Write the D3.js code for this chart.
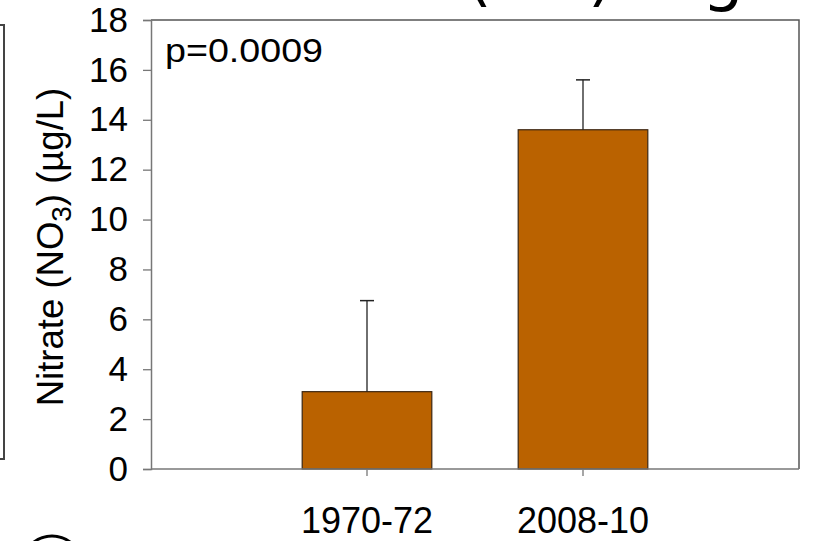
<!DOCTYPE html>
<html>
<head>
<meta charset="utf-8">
<script src="https://cdn.jsdelivr.net/npm/d3@7"></script>
<style>
  html, body { margin: 0; padding: 0; background: #fff; }
  svg { display: block; }
  text { font-family: "Liberation Sans", Arial, sans-serif; fill: #000; }
</style>
</head>
<body>
<svg id="chart" width="813" height="541"></svg>
<script>
// ---- data ----
const categories = ["1970-72", "2008-10"];
const means = [3.1, 13.6];
const errors = [3.65, 2.0];
const yTicks = [0, 2, 4, 6, 8, 10, 12, 14, 16, 18];
const annotation = "p=0.0009";

// ---- layout ----
const plot = { left: 151, right: 799, top: 20, bottom: 469 };
const svg = d3.select("#chart");

const x = d3.scaleBand()
  .domain(categories)
  .range([plot.left, plot.right])
  .paddingInner(0.4)
  .paddingOuter(0.7);

const y = d3.scaleLinear().domain([0, 18]).range([plot.bottom, plot.top]);

// neighbouring panel remnants
svg.append("path")
  .attr("d", `M0,25 H4 V459 H0`)
  .attr("fill", "none").attr("stroke", "#444").attr("stroke-width", 2);
svg.append("circle")
  .attr("cx", 52).attr("cy", 566).attr("r", 30)
  .attr("fill", "none").attr("stroke", "#000").attr("stroke-width", 3);
const tfont = "'DejaVu Sans', sans-serif";
[["(", 466], [")", 588], ["g", 702]].forEach(([t, px]) => {
  svg.append("text").attr("x", px).attr("y", -2)
    .style("font-family", tfont).style("font-size", "66px").text(t);
});

// frame (top & right)
svg.append("path")
  .attr("d", `M${plot.left},${plot.top} H${plot.right} V${plot.bottom}`)
  .attr("fill", "none").attr("stroke", "#555").attr("stroke-width", 1.5);

// bars
const g = svg.append("g");
g.selectAll("rect.bar").data(categories).join("rect")
  .attr("class", "bar")
  .attr("x", d => x(d))
  .attr("width", x.bandwidth())
  .attr("y", (d, i) => y(means[i]))
  .attr("height", (d, i) => y(0) - y(means[i]))
  .attr("fill", "#BA6200")
  .attr("stroke", "#3b2612").attr("stroke-width", 1.2);

// error bars (upper only)
const cap = 14;
categories.forEach((c, i) => {
  const cx = x(c) + x.bandwidth() / 2;
  g.append("line").attr("x1", cx).attr("x2", cx)
    .attr("y1", y(means[i])).attr("y2", y(means[i] + errors[i]))
    .attr("stroke", "#222").attr("stroke-width", 1.3);
  g.append("line").attr("x1", cx - cap / 2).attr("x2", cx + cap / 2)
    .attr("y1", y(means[i] + errors[i])).attr("y2", y(means[i] + errors[i]))
    .attr("stroke", "#222").attr("stroke-width", 1.5);
});

// y axis
const yAxis = d3.axisLeft(y).tickValues(yTicks).tickSize(8).tickPadding(15)
  .tickFormat(d3.format("d"));
const ya = svg.append("g").attr("transform", `translate(${plot.left},0)`).call(yAxis);
ya.select(".domain").attr("stroke", "#777").attr("stroke-width", 1.5);
ya.selectAll(".tick line").attr("stroke", "#777").attr("stroke-width", 1.3);
ya.selectAll(".tick text")
  .style("font-size", "35px").style("font-family", "'Liberation Sans', Arial, sans-serif")
  .attr("fill", "#000");

// x axis
const xAxis = d3.axisBottom(x).tickSize(7).tickPadding(31).tickSizeOuter(0);
const xa = svg.append("g").attr("transform", `translate(0,${plot.bottom})`).call(xAxis);
xa.select(".domain").attr("stroke", "#777").attr("stroke-width", 1.5)
  .attr("d", `M${plot.left},0H${plot.right}`);
xa.selectAll(".tick line").attr("stroke", "#777").attr("stroke-width", 1.3);
xa.selectAll(".tick text")
  .style("font-size", "36px").style("font-family", "'Liberation Sans', Arial, sans-serif")
  .attr("fill", "#000");

// annotation
svg.append("text").attr("x", 165).attr("y", 62)
  .attr("textLength", 158).attr("lengthAdjust", "spacingAndGlyphs")
  .style("font-size", "33px").text(annotation);

// y title
const yt = svg.append("text")
  .attr("transform", `translate(63,247) rotate(-90)`)
  .attr("text-anchor", "middle")
  .style("font-size", "36.5px");
yt.append("tspan").text("Nitrate (NO");
yt.append("tspan").attr("dy", 8).style("font-size", "28px").text("3");
yt.append("tspan").attr("dy", -8).text(") (µg/L)");
</script>
</body>
</html>
